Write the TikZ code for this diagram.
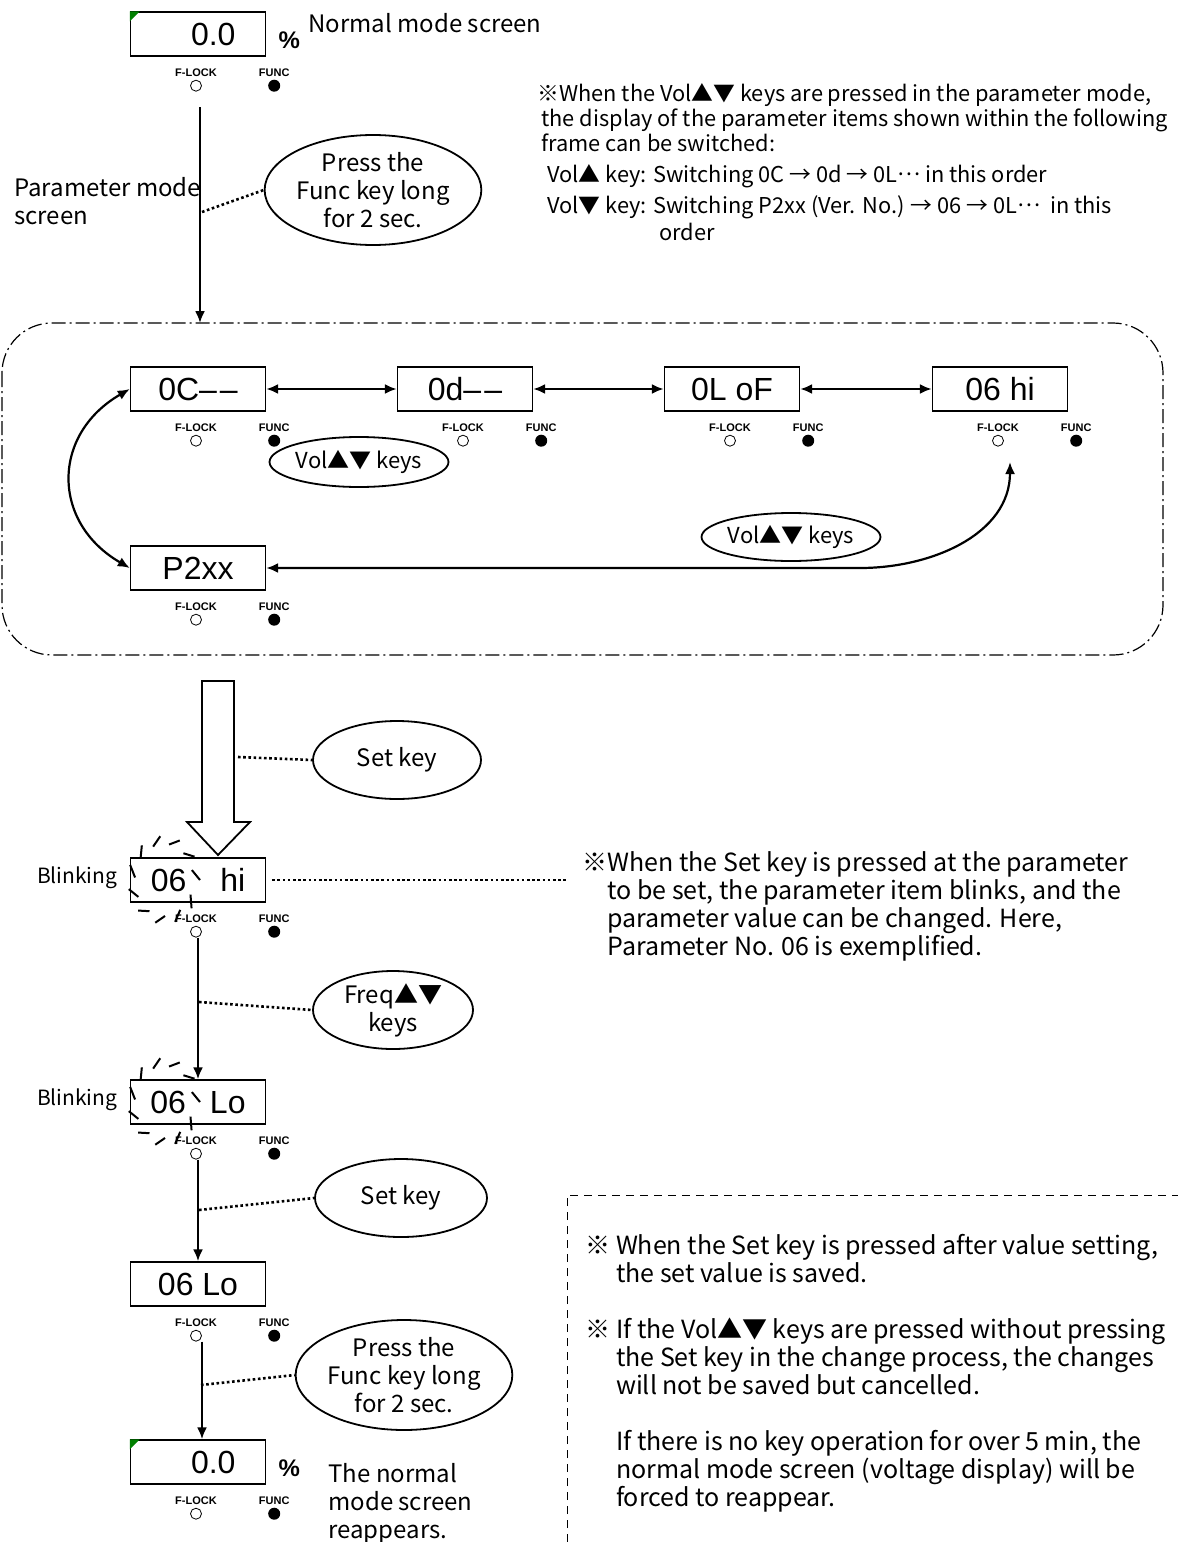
\documentclass[tikz,border=0pt]{standalone}
\usepackage{fontspec}
\setmainfont{Noto Sans CJK JP}
\newfontfamily\lcdfont{Liberation Sans}
\usepackage{tikz}
\usetikzlibrary{
  arrows.meta,
  positioning,
  calc,
  shapes.geometric
}
\definecolor{cornergreen}{RGB}{0,128,0}
\newcommand{\middots}{\raisebox{0.3em}{…}}
\tikzset{
  dispbox/.style={
    draw,
    line width=0.7pt,
    minimum width=67.5pt,
    minimum height=22pt,
    inner sep=0pt,
    font=\lcdfont\fontsize{16}{16}\selectfont
  },
  lamplabel/.style={inner sep=0pt,font=\lcdfont\bfseries\fontsize{5.5}{5.5}\selectfont},
  lampoff/.style={circle,draw,line width=0.4pt,minimum size=5.5pt,inner sep=0pt},
  lampon/.style={circle,fill,minimum size=6pt,inner sep=0pt},
  pctsign/.style={font=\lcdfont\bfseries\fontsize{12}{12}\selectfont,inner sep=0pt},
  keyoval/.style={
    ellipse,
    draw,
    line width=0.9pt,
    align=center,
    inner sep=0pt,
    font=\fontsize{12}{14}\selectfont
  },
  flowarrow/.style={-{Latex[length=6pt,width=5pt]},line width=1.1pt},
  bothway/.style={{Latex[length=6pt,width=5pt]}-{Latex[length=6pt,width=5pt]},line width=1.1pt},
  linkdots/.style={line width=1.3pt,dash pattern=on 1.3pt off 1.3pt},
  labeltext/.style={align=left,inner sep=0pt,font=\fontsize{12}{14}\selectfont},
  notetext/.style={align=left,inner sep=0pt,anchor=north west,font=\fontsize{12.5}{14}\selectfont},
  panelframe/.style={line width=0.6pt,dash pattern=on 7pt off 2pt on 1pt off 2pt,rounded corners=25pt},
  blinkmark/.style={line width=1pt},
}
% lamps under a display
\newcommand{\lamps}[1]{%
  \node[lamplabel] (#1-lt) at ($(#1.south)+(-2,-16)$) {F-LOCK};
  \node[lampoff] (#1-lc) at ($(#1.south)+(-2,-29)$) {};
  \node[lamplabel] (#1-ft) at ($(#1.south east)+(8,-16)$) {FUNC};
  \node[lampon] (#1-fc) at ($(#1.south east)+(8,-29)$) {};
}
\newcommand{\blinkmarks}[1]{%
  \coordinate (#1-bc) at ($(#1.center)+(-34,0)$);
  \foreach \a in {0,32,...,330}
    \draw[blinkmark] ($(#1-bc)+(\a:36 and 44)$) -- ($(#1-bc)+(\a+16:29 and 36)$);
}

\begin{document}
\begin{tikzpicture}[x=0.5pt,y=0.5pt]
  \useasboundingbox (0,0) rectangle (1178,-1542);

  % normal mode screen
  \node[dispbox,text width=37.5pt,align=right,inner xsep=15pt] (norm) at (198,-34) {0.0};
  \fill[cornergreen] (norm.north west) -- ++(10,0) -- ++(-10,-10) -- cycle;
  \node[pctsign,right=6pt of norm,yshift=-3pt] (normpct) {\%};
  \lamps{norm}
  \node[labeltext,anchor=west] (normlbl) at (308,-23) {Normal mode screen};
  \node[labeltext,anchor=north west] (parlbl) at (14,-177) {Parameter mode\\screen};

  \node[notetext,font=\fontsize{10.9}{12.5}\selectfont] (note1) at (537,-83) {%
    ※When the Vol▲▼ keys are pressed in the parameter mode,\\
    \hspace*{2pt}the display of the parameter items shown within the following\\
    \hspace*{2pt}frame can be switched:\\[3pt]
    \hspace*{5pt}Vol▲ key: Switching 0C → 0d → 0L\middots{} in this order\\[3pt]
    \hspace*{5pt}Vol▼ key: Switching P2xx (Ver. No.) → 06 → 0L\middots\ \ in this\\[1pt]
    \hspace*{61pt}order};

  \coordinate (normOut) at (200,-107);
  \coordinate (frameTop) at (200,-323);
  \draw[flowarrow] (normOut) -- (frameTop);
  \node[keyoval,minimum width=95pt,minimum height=55pt] (funcA) at (373,-190) {Press the\\Func key long\\for 2 sec.};
  \coordinate (tapFuncA) at (202,-212);
  \draw[linkdots] (tapFuncA) -- (funcA.west);

  % parameter frame
  \draw[panelframe] (2,-323) rectangle (1163,-655);
  \node[dispbox] (prmC) at (198,-389) {0C–\kern1.5pt–};
  \node[dispbox] (prmD) at (465,-389) {0d–\kern1.5pt–};
  \node[dispbox] (prmL) at (732,-389) {0L oF};
  \node[dispbox] (prmHi) at (1000,-389) {06 hi};
  \node[dispbox] (prmP) at (198,-568) {P2xx};
  \lamps{prmC}
  \lamps{prmD}
  \lamps{prmL}
  \lamps{prmHi}
  \lamps{prmP}
  \draw[bothway] (prmC.east) -- (prmD.west);
  \draw[bothway] (prmD.east) -- (prmL.west);
  \draw[bothway] (prmL.east) -- (prmHi.west);
  \draw[bothway] (prmP.west) to[out=150,in=210,looseness=1.3] (prmC.west);
  \coordinate (bendR) at (860,-568);
  \coordinate (hiIn) at (1010,-462);
  \draw[bothway] (prmP.east) -- (bendR) to[out=0,in=-90] (hiIn);
  \node[keyoval,minimum width=79pt,minimum height=25pt,font=\fontsize{11}{13}\selectfont] (volA) at (359,-462) {Vol▲▼ keys};
  \node[keyoval,minimum width=80pt,minimum height=24pt,font=\fontsize{11}{13}\selectfont] (volB) at (791,-537) {Vol▲▼ keys};

  % set key
  \draw[line width=0.9pt] (202,-681) -- (234,-681) -- (234,-822) -- (250,-822)
    -- (218,-855) -- (187,-822) -- (202,-822) -- cycle;
  \node[keyoval,minimum width=84pt,minimum height=39pt] (setA) at (397,-760) {Set key};
  \coordinate (tapSetA) at (238,-757);
  \draw[linkdots] (tapSetA) -- (setA.west);

  % blinking
  \node[dispbox] (blinkHi) at (198,-880) {06\hspace{17pt}hi};
  \node[labeltext,left=6pt of blinkHi,font=\fontsize{10.5}{12}\selectfont,yshift=1pt] (blinkHiLbl) {Blinking};
  \blinkmarks{blinkHi}
  \lamps{blinkHi}
  \coordinate (note2In) at (568,-880);
  \draw[linkdots] ([xshift=3pt]blinkHi.east) -- (note2In);
  \node[notetext] (note2) at (582,-851) {%
    ※When the Set key is pressed at the parameter\\
    \phantom{※}to be set, the parameter item blinks, and the\\
    \phantom{※}parameter value can be changed. Here,\\
    \phantom{※}Parameter No. 06 is exemplified.};

  \node[dispbox] (blinkLo) at (198,-1102) {06\hspace{12pt}Lo};
  \node[labeltext,left=6pt of blinkLo,font=\fontsize{10.5}{12}\selectfont,yshift=1pt] (blinkLoLbl) {Blinking};
  \blinkmarks{blinkLo}
  \lamps{blinkLo}
  \draw[flowarrow] (blinkHi.south |- blinkHi-lc.south) -- (blinkLo.north);
  \node[keyoval,minimum width=80pt,minimum height=39pt] (freqA) at (393,-1010) {Freq▲▼\\keys};
  \coordinate (tapFreq) at (199,-1002);
  \draw[linkdots] (tapFreq) -- (freqA.west);

  % saved
  \node[dispbox] (setLo) at (198,-1284) {06 Lo};
  \lamps{setLo}
  \draw[flowarrow] (blinkLo.south |- blinkLo-lc.south) -- (setLo.north);
  \node[keyoval,minimum width=86pt,minimum height=39pt] (setB) at (401,-1198) {Set key};
  \coordinate (tapSetB) at (199,-1210);
  \draw[linkdots] (tapSetB) -- (setB.west);

  \node[dispbox,text width=37.5pt,align=right,inner xsep=15pt] (normEnd) at (198,-1462) {0.0};
  \fill[cornergreen] (normEnd.north west) -- ++(10,0) -- ++(-10,-10) -- cycle;
  \node[pctsign,right=6pt of normEnd,yshift=-3pt] (endpct) {\%};
  \lamps{normEnd}
  \draw[flowarrow] ([xshift=2pt]setLo.south |- setLo-lc.south) -- ([xshift=2pt]normEnd.north);
  \node[keyoval,minimum width=100pt,minimum height=55pt] (funcB) at (404,-1375) {Press the\\Func key long\\for 2 sec.};
  \coordinate (tapFuncB) at (201,-1385);
  \draw[linkdots] (tapFuncB) -- (funcB.west);
  \node[labeltext,anchor=north west] (endlbl) at (328,-1463) {The normal\\mode screen\\reappears.};

  % notes
  \draw[dash pattern=on 4pt off 3pt,line width=0.5pt] (567,-1542) |- (1178,-1195);
  \node[notetext] (note3) at (585,-1234) {%
    ※ When the Set key is pressed after value setting,\\
    \phantom{※ }the set value is saved.\\[14pt]
    ※ If the Vol▲▼ keys are pressed without pressing\\
    \phantom{※ }the Set key in the change process, the changes\\
    \phantom{※ }will not be saved but cancelled.\\[14pt]
    \phantom{※ }If there is no key operation for over 5 min, the\\
    \phantom{※ }normal mode screen (voltage display) will be\\
    \phantom{※ }forced to reappear.};
\end{tikzpicture}
\end{document}
